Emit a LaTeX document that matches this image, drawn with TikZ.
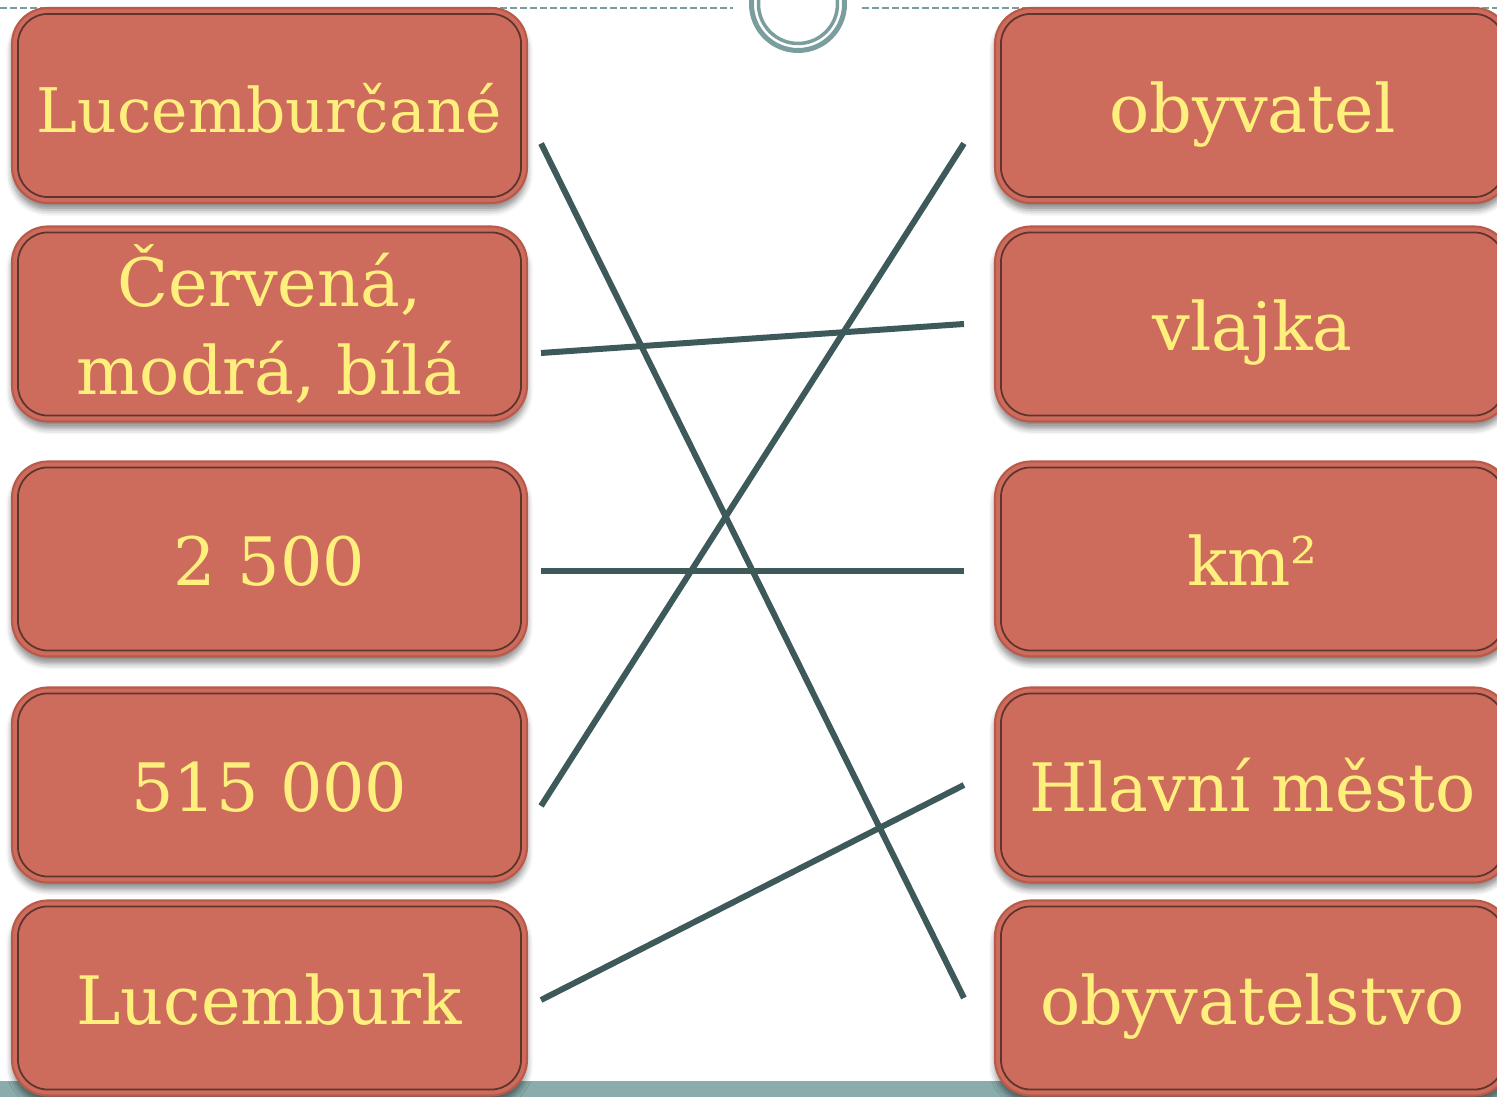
\documentclass[tikz,border=0pt]{standalone}
\usepackage{fontspec}
\setmainfont{DejaVu Serif}
\usetikzlibrary{shadows.blur}
\definecolor{cardfill}{HTML}{CD6C5C}
\definecolor{cardrim}{HTML}{B9594A}
\definecolor{cardline}{HTML}{5E342C}
\definecolor{cardtext}{HTML}{FFF07E}
\definecolor{linkcol}{HTML}{3E5959}
\definecolor{framecol}{HTML}{7A9E9E}
\definecolor{barcol}{HTML}{8AACAC}
\tikzset{
  card/.style={rectangle, rounded corners=0.36cm, fill=cardfill, draw=cardrim,
    line width=0.6pt, minimum width=5.15cm, minimum height=1.95cm,
    inner xsep=0.5pt, inner ysep=2pt,
    text=cardtext, align=center, font=\fontsize{19}{25}\selectfont,
    blur shadow={shadow xshift=0cm, shadow yshift=-0.07cm,
      shadow blur radius=0.06cm, shadow opacity=45}},
  word/.style={card, text height=0.54cm, text depth=0cm},
  rim/.style={draw=cardline, line width=0.5pt, rounded corners=0.3cm},
  link/.style={draw=linkcol, line width=0.06cm}
}
\begin{document}
\begin{tikzpicture}
\useasboundingbox (0,0) rectangle (14.97,10.97);
\clip (0,0) rectangle (14.97,10.97);
% slide frame
\fill[barcol] (0,0) rectangle (14.97,0.16);
\draw[framecol, dash pattern=on 0.07cm off 0.03cm, line width=0.6pt] (0,10.89) -- (7.33,10.89);
\draw[framecol, dash pattern=on 0.07cm off 0.03cm, line width=0.6pt] (8.62,10.89) -- (14.97,10.89);
\draw[framecol, line width=0.05cm] (7.98,10.93) circle (0.465);
\draw[framecol, line width=0.035cm] (7.98,10.93) circle (0.395);

% left column
\node[word, font=\fontsize{17.5}{25}\selectfont] (l1) at (2.695,9.915) {Lucemburčané};
\node[card] (l2) at (2.695,7.73) {Červená,\\ modrá, bílá};
\node[word] (l3) at (2.695,5.38) {2 500};
\node[word] (l4) at (2.695,3.12) {515 000};
\node[word] (l5) at (2.695,0.99) {Lucemburk};

% right column
\node[word] (r1) at (12.525,9.915) {obyvatel};
\node[word] (r2) at (12.525,7.73) {vlajka};
\node[word] (r3) at (12.525,5.38) {km²};
\node[word] (r4) at (12.525,3.12) {Hlavní město};
\node[word] (r5) at (12.525,0.99) {obyvatelstvo};

% inner edge of the cards
\foreach \n in {l1,l2,l3,l4,l5,r1,r2,r3,r4,r5}
  \draw[rim] ([shift={(0.07,-0.07)}]\n.north west) rectangle ([shift={(-0.07,0.07)}]\n.south east);

% pairs
\draw[link] ([shift={(0.13,-0.38)}]l1.east) -- ([xshift=-0.30cm]r5.west);
\draw[link] ([shift={(0.13,-0.29)}]l2.east) -- ([xshift=-0.30cm]r2.west);
\draw[link] ([shift={(0.13,-0.12)}]l3.east) -- ([shift={(-0.30,-0.12)}]r3.west);
\draw[link] ([shift={(0.13,-0.21)}]l4.east) -- ([shift={(-0.30,-0.38)}]r1.west);
\draw[link] ([shift={(0.13,-0.02)}]l5.east) -- ([xshift=-0.30cm]r4.west);
\end{tikzpicture}
\end{document}
